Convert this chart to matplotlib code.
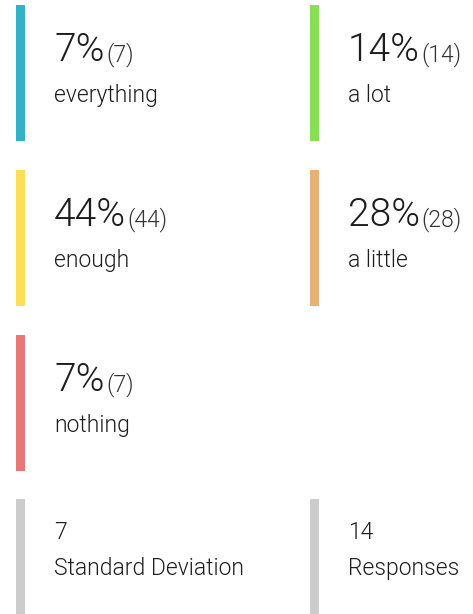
import matplotlib
matplotlib.use("Agg")
import matplotlib.pyplot as plt

labels = ["everything", "a lot", "enough", "a little", "nothing"]
counts = [7, 14, 44, 28, 7]
percents = [7, 14, 44, 28, 7]
colors = ["#33b2c7", "#86e052", "#fbdf5b", "#e8b073", "#e87877"]

stat_values = ["7", "14"]
stat_labels = ["Standard Deviation", "Responses"]
stat_color = "#cccccc"

W, H = 473, 614
plt.rcParams["font.family"] = ["Roboto", "DejaVu Sans"]

fig = plt.figure(figsize=(W / 100, H / 100), dpi=100)
ax = fig.add_axes([0, 0, 1, 1])
ax.set_xlim(0, W)
ax.set_ylim(H, 0)
ax.axis("off")

col_x = [16, 310]
row_top = [5, 170, 335, 499]
bar_w, bar_h = 9, 136
text_dx = 38
txt = "#1e1e1e"
LIGHT = 300  # Roboto Light; "light" in matplotlib resolves to Thin

renderer = fig.canvas.get_renderer()

for i, (lab, n, pct, c) in enumerate(zip(labels, counts, percents, colors)):
    x0 = col_x[i % 2]
    y0 = row_top[i // 2]
    ax.bar(x0, bar_h, width=bar_w, bottom=y0, align="edge", color=c, linewidth=0)
    t = ax.text(x0 + text_dx, y0 + 56, f"{pct}%", fontsize=28, fontweight=LIGHT,
                color=txt, va="baseline", ha="left")
    bb = t.get_window_extent(renderer=renderer)
    x_end = ax.transData.inverted().transform((bb.x1, bb.y0))[0]
    ax.text(x_end + 1.5, y0 + 56, f"({n})", fontsize=16.5, fontweight=LIGHT,
            color="#333333", va="baseline", ha="left")
    ax.text(x0 + text_dx, y0 + 97, lab, fontsize=16.5, fontweight=LIGHT,
            color=txt, va="baseline", ha="left")

for j, (v, lab) in enumerate(zip(stat_values, stat_labels)):
    x0 = col_x[j]
    y0 = row_top[3]
    ax.bar(x0, H - y0, width=bar_w, bottom=y0, align="edge", color=stat_color, linewidth=0)
    ax.text(x0 + text_dx, y0 + 40, v, fontsize=16.5, fontweight=LIGHT,
            color=txt, va="baseline", ha="left")
    ax.text(x0 + text_dx, y0 + 76, lab, fontsize=16.5, fontweight=LIGHT,
            color=txt, va="baseline", ha="left")

fig.savefig("out.png", dpi=100)
